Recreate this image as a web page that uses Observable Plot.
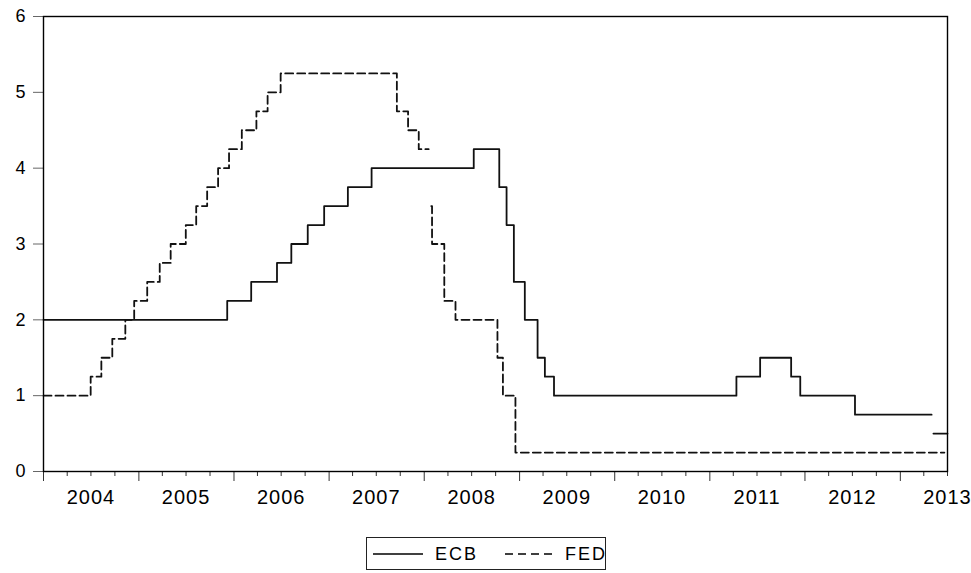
<!DOCTYPE html>
<html>
<head>
<meta charset="utf-8">
<script src="https://cdn.jsdelivr.net/npm/d3@7"></script>
<script src="https://cdn.jsdelivr.net/npm/@observablehq/plot@0.6"></script>
<style>
  html, body { margin: 0; padding: 0; background: #fff; }
  #wrap { position: relative; width: 971px; height: 573px; font-family: "Liberation Sans", Arial, sans-serif; }
  #legend { position: absolute; left: 366px; top: 537px; width: 240px; height: 33px; border: 1px solid #222; box-sizing: border-box;
            font-size: 18px; letter-spacing: 2px; color: #000; }
  #legend > * { position: absolute; }
</style>
</head>
<body>
<div id="wrap"><div id="chart"></div>
<div id="legend">
  <svg width="50" height="20" style="left:6px; top:6px"><line x1="0" x2="50" y1="10" y2="10" stroke="#000" stroke-width="1.6"/></svg>
  <span style="left:68px; top:6px">ECB</span>
  <svg width="48" height="20" style="left:138px; top:6px"><line x1="0" x2="48" y1="10" y2="10" stroke="#000" stroke-width="1.6" stroke-dasharray="8,5"/></svg>
  <span style="left:198px; top:6px">FED</span>
</div>
</div>
<script>
// ECB main refinancing rate (change dates and levels); null = gap in the series
const ecbDates = ["2004-01-01","2005-12-06","2006-03-08","2006-06-15","2006-08-09","2006-10-11","2006-12-13","2007-03-14","2007-06-13","2008-07-09","2008-10-15","2008-11-12","2008-12-10","2009-01-21","2009-03-11","2009-04-08","2009-05-13","2011-04-13","2011-07-13","2011-11-09","2011-12-14","2012-07-11","2013-05-01","2013-05-01","2013-05-08","2013-07-01"];
const ecbRates = [2.00,2.25,2.50,2.75,3.00,3.25,3.50,3.75,4.00,4.25,3.75,3.25,2.50,2.00,1.50,1.25,1.00,1.25,1.50,1.25,1.00,0.75,0.75,null,0.50,0.50];

// FED funds target rate
const fedDates = ["2004-01-01","2004-06-30","2004-08-10","2004-09-21","2004-11-10","2004-12-14","2005-02-02","2005-03-22","2005-05-03","2005-06-30","2005-08-09","2005-09-20","2005-11-01","2005-12-13","2006-01-31","2006-03-28","2006-05-10","2006-06-29","2007-09-18","2007-10-31","2007-12-11","2008-01-18","2008-01-18","2008-01-28","2008-01-31","2008-03-18","2008-04-30","2008-10-08","2008-10-29","2008-12-16","2013-06-19"];
const fedRates = [1.00,1.25,1.50,1.75,2.00,2.25,2.50,2.75,3.00,3.25,3.50,3.75,4.00,4.25,4.50,4.75,5.00,5.25,4.75,4.50,4.25,4.25,null,3.50,3.00,2.25,2.00,1.50,1.00,0.25,0.25];

const yearLabels = [2004,2005,2006,2007,2008,2009,2010,2011,2012,2013];
const yTicks = [0,1,2,3,4,5,6];

const ecb = ecbDates.map((d, i) => ({date: new Date(d), rate: ecbRates[i]}));
const fed = fedDates.map((d, i) => ({date: new Date(d), rate: fedRates[i]}));

const yearStarts = yearLabels.map(y => new Date(Date.UTC(y, 0, 1)));
const midYears = yearLabels.map(y => new Date(Date.UTC(y, 6, 1)));
const quarterTicks = [];
for (const y of yearLabels) for (const m of [3, 6, 9]) {
  const d = new Date(Date.UTC(y, m, 1));
  if (d <= new Date(Date.UTC(2013, 6, 1))) quarterTicks.push(d);
}

const chart = Plot.plot({
  width: 971,
  height: 530,
  marginLeft: 43,
  marginRight: 24,
  marginTop: 16,
  marginBottom: 59,
  x: {type: "utc", domain: [new Date(Date.UTC(2004,0,1)), new Date(Date.UTC(2013,6,1))], label: null},
  y: {domain: [0, 6], label: null},
  style: {fontFamily: "'Liberation Sans', Arial, sans-serif", color: "#000", background: "#fff", overflow: "visible"},
  marks: [
    Plot.line(fed, {x: "date", y: "rate", curve: "step-after", stroke: "#111", strokeWidth: 1.8, strokeDasharray: "8,4"}),
    Plot.line(ecb, {x: "date", y: "rate", curve: "step-after", stroke: "#111", strokeWidth: 1.8}),
    Plot.axisY({ticks: yTicks, tickSize: 10, tickPadding: 8, fontSize: 18, stroke: "#666", label: null, tickFormat: d => String(d)}),
    Plot.axisX({ticks: yearStarts, tickSize: 10, tickFormat: () => "", stroke: "#333", label: null}),
    Plot.axisX({ticks: quarterTicks, tickSize: 5, tickFormat: () => "", stroke: "#333", label: null}),
    Plot.axisX({ticks: midYears, tickSize: 0, tickPadding: 18, fontSize: 20, label: null, tickFormat: d => String(d.getUTCFullYear())}),
    Plot.frame({stroke: "#000", strokeWidth: 1.4})
  ]
});
chart.querySelectorAll("g[aria-label='x-axis tick label'] text").forEach(t => t.setAttribute("letter-spacing", "1"));
document.getElementById("chart").appendChild(chart);
</script>
</body>
</html>
